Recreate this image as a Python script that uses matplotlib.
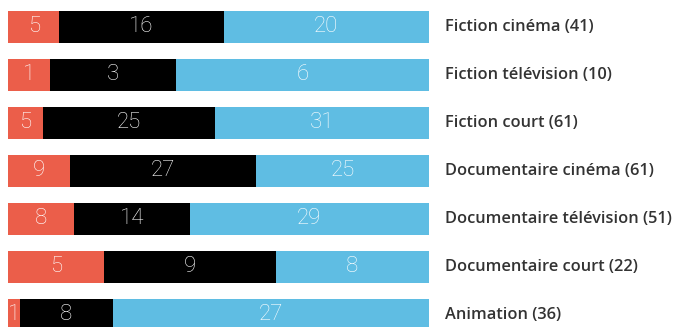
import matplotlib
matplotlib.use('Agg')
import matplotlib.pyplot as plt
import matplotlib.transforms as mtransforms
import numpy as np

categories = ['Fiction cinéma', 'Fiction télévision', 'Fiction court',
              'Documentaire cinéma', 'Documentaire télévision',
              'Documentaire court', 'Animation']
red_vals = [5, 1, 5, 9, 8, 5, 1]
black_vals = [16, 3, 25, 27, 14, 9, 8]
blue_vals = [20, 6, 31, 25, 29, 8, 27]
totals = [41, 10, 61, 61, 51, 22, 36]

colors = ['#EB5E4A', '#000000', '#5FBDE3']

fig = plt.figure(figsize=(6.78, 3.27), dpi=100)
ax = fig.add_axes([8 / 678, 0, (429 - 8) / 678, 1])

y = np.arange(len(categories))
series = [np.array(red_vals), np.array(black_vals), np.array(blue_vals)]
total = sum(series)
left = np.zeros(len(categories))
for vals, col in zip(series, colors):
    frac = vals / total
    ax.barh(y, frac, left=left, height=32 / 48, color=col, linewidth=0)
    for yi, l, w, v in zip(y, left, frac, vals):
        ax.text(l + w / 2, yi, str(v), ha='center', va='center',
                color='white', fontsize=16, family='Roboto',
                fontweight='light')
    left = left + frac

ax.set_xlim(0, 1)
ax.set_ylim(len(categories) - 1 + 0.25, -0.5625)
ax.axis('off')

# category labels to the right of the bars
trans = mtransforms.blended_transform_factory(fig.transFigure, ax.transData)
for yi, cat, t in zip(y, categories, totals):
    ax.text(445 / 678, yi, f'{cat} ({t})', transform=trans, ha='left',
            va='center', color='#333333', fontsize=11.8, family='Open Sans',
            fontweight='semibold', clip_on=False)

fig.savefig('out.png', dpi=100)
